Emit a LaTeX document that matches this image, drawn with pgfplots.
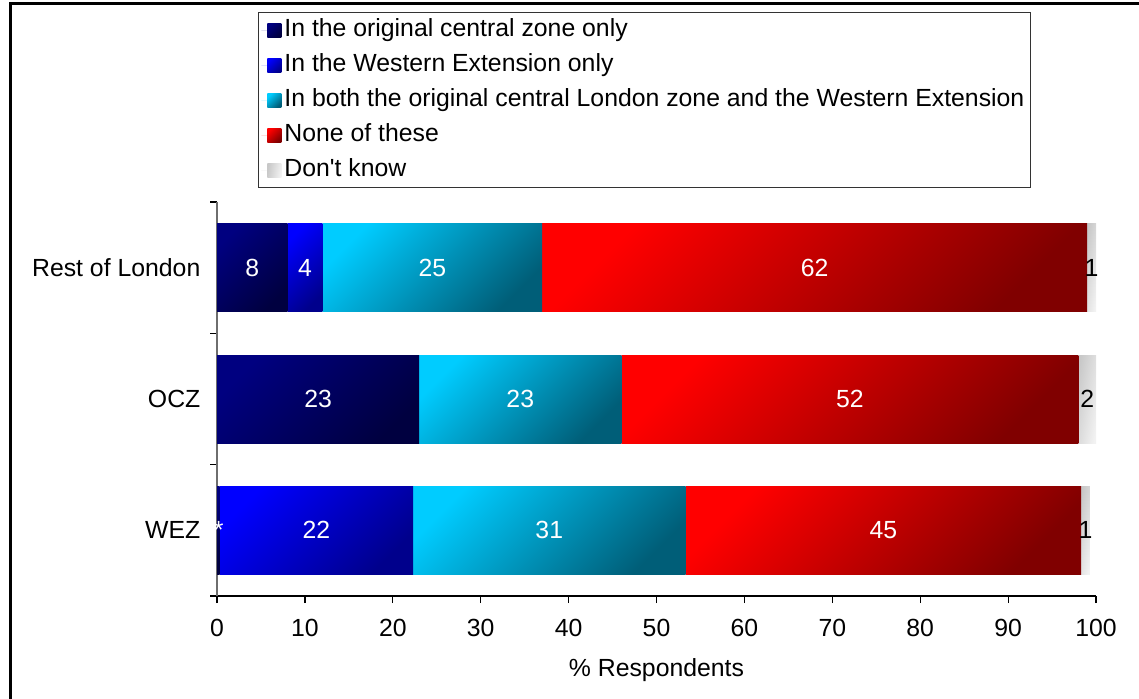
\documentclass[border=0pt]{standalone}
\usepackage{fontspec}
\setmainfont{Liberation Sans}
\usepackage{pgfplots}
\usepackage{pgfplotstable}
\pgfplotsset{compat=1.18}

\newcommand\chartfont{\fontsize{12.4pt}{14.9pt}\selectfont}

\definecolor{navyA}{RGB}{0,0,128}
\definecolor{navyB}{RGB}{0,0,64}
\definecolor{blueA}{RGB}{0,0,255}
\definecolor{blueB}{RGB}{0,0,140}
\definecolor{cyanA}{RGB}{0,204,255}
\definecolor{cyanB}{RGB}{0,94,120}
\definecolor{redA}{RGB}{255,0,0}
\definecolor{redB}{RGB}{128,0,0}
\definecolor{greyA}{RGB}{200,200,200}
\definecolor{greyB}{RGB}{242,242,242}
\definecolor{axisgrey}{RGB}{110,110,110}

% shares of respondents (%), one table per group; y: 0 = WEZ, 1 = OCZ, 2 = Rest of London
\pgfplotstableread{
y central western both none dontknow
2 8 4 25 62 1
}\restlondon
\pgfplotstableread{
y central western both none dontknow
1 23 0 23 52 2
}\ocz
\pgfplotstableread{
y central western both none dontknow
0 0.3 22 31 45 1
}\wez

% value labels at the middle of each segment
\pgfplotstableread{
x    y lab
0.2  0 *
11.3 0 22
37.8 0 31
75.8 0 45
11.5 1 23
34.5 1 23
72   1 52
4    2 8
10   2 4
24.5 2 25
68   2 62
}\whitelabels

\pgfplotstableread{
x    y lab
98.8 0 1
99   1 2
99.5 2 1
}\darklabels

\pgfplotsset{
  chartframe/.style={
    at={(108.5pt,51pt)}, anchor=south west,
    scale only axis, width=439.5pt, height=197pt,
    xmin=0, xmax=100, ymin=-0.5, ymax=2.5,
  },
  bars/.style={xbar stacked, bar width=44pt},
  rowaxis/.style={chartframe, bars, hide axis, clip=false},
  segment/.style 2 args={draw=none, top color=#1, bottom color=#2, shading angle=45},
  dkseg/.style={draw=none, left color=greyA, right color=greyB, shading angle=80},
}

\begin{document}
\begin{tikzpicture}
\useasboundingbox (0,0) rectangle (569.5pt,349pt);
% outer chart frame
\draw[line width=1.5pt] (5pt,-1pt) -- (5pt,347.4pt) -- (572pt,347.4pt);

% axes, legend and the Rest of London bar
\begin{axis}[chartframe, bars, font=\chartfont,
  axis x line*=bottom, axis y line*=left,
  x axis line style={black, line width=0.6pt},
  y axis line style={axisgrey, line width=0.6pt},
  xtick={0,10,...,100},
  ytick={0,1,2}, yticklabels={WEZ,OCZ,Rest of London},
  minor ytick={-0.5,0.5,1.5,2.5},
  tick align=outside,
  major tick length=3.5pt, minor tick length=3.5pt,
  major y tick style={draw=none},
  minor y tick style={black, line width=0.6pt},
  major x tick style={black, line width=0.6pt},
  /pgf/number format/assume math mode=true,
  xticklabel style={yshift=-4.5pt},
  yticklabel style={xshift=-1.3pt},
  xlabel={\% Respondents},
  xlabel style={yshift=-4.3pt},
  legend cell align=left,
  legend style={
    at={(0.0466,1.4822)}, anchor=north west,
    draw=black!80, line width=0.5pt, font=\chartfont,
    inner xsep=1.5pt, inner ysep=1.25pt, row sep=2.5pt,
    nodes={inner ysep=2pt, inner xsep=1.5pt, text height=8.5pt, text depth=2.5pt},
  },
  legend image code/.code={
    \path (-3pt,0pt) -- (7pt,0pt);
    \path[#1] (0pt,-3.5pt) rectangle (7pt,3.5pt);},
]
\addplot[segment={navyA}{navyB}] table[x=central, y=y] {\restlondon};
\addlegendentry{In the original central zone only}
\addplot[segment={blueA}{blueB}] table[x=western, y=y] {\restlondon};
\addlegendentry{In the Western Extension only}
\addplot[segment={cyanA}{cyanB}] table[x=both, y=y] {\restlondon};
\addlegendentry{In both the original central London zone and the Western Extension}
\addplot[segment={redA}{redB}] table[x=none, y=y] {\restlondon};
\addlegendentry{None of these}
\addplot[dkseg] table[x=dontknow, y=y] {\restlondon};
\addlegendentry{Don\textquotesingle t know}
\end{axis}

% OCZ bar (no Western Extension only share)
\begin{axis}[rowaxis]
\addplot[segment={navyA}{navyB}] table[x=central, y=y] {\ocz};
\addplot[segment={cyanA}{cyanB}] table[x=both, y=y] {\ocz};
\addplot[segment={redA}{redB}] table[x=none, y=y] {\ocz};
\addplot[dkseg] table[x=dontknow, y=y] {\ocz};
\end{axis}

% WEZ bar
\begin{axis}[rowaxis]
\addplot[segment={navyA}{navyB}] table[x=central, y=y] {\wez};
\addplot[segment={blueA}{blueB}] table[x=western, y=y] {\wez};
\addplot[segment={cyanA}{cyanB}] table[x=both, y=y] {\wez};
\addplot[segment={redA}{redB}] table[x=none, y=y] {\wez};
\addplot[dkseg] table[x=dontknow, y=y] {\wez};
\end{axis}

% value labels on the segments
\begin{axis}[chartframe, hide axis, clip=false]
\addplot[draw=none, mark=none, nodes near coords, point meta=explicit symbolic,
  every node near coord/.append style={anchor=center, text=white, font=\chartfont}]
  table[x=x, y=y, meta=lab] {\whitelabels};
\addplot[draw=none, mark=none, nodes near coords, point meta=explicit symbolic,
  every node near coord/.append style={anchor=center, text=black, font=\chartfont}]
  table[x=x, y=y, meta=lab] {\darklabels};
\end{axis}
\end{tikzpicture}
\end{document}
